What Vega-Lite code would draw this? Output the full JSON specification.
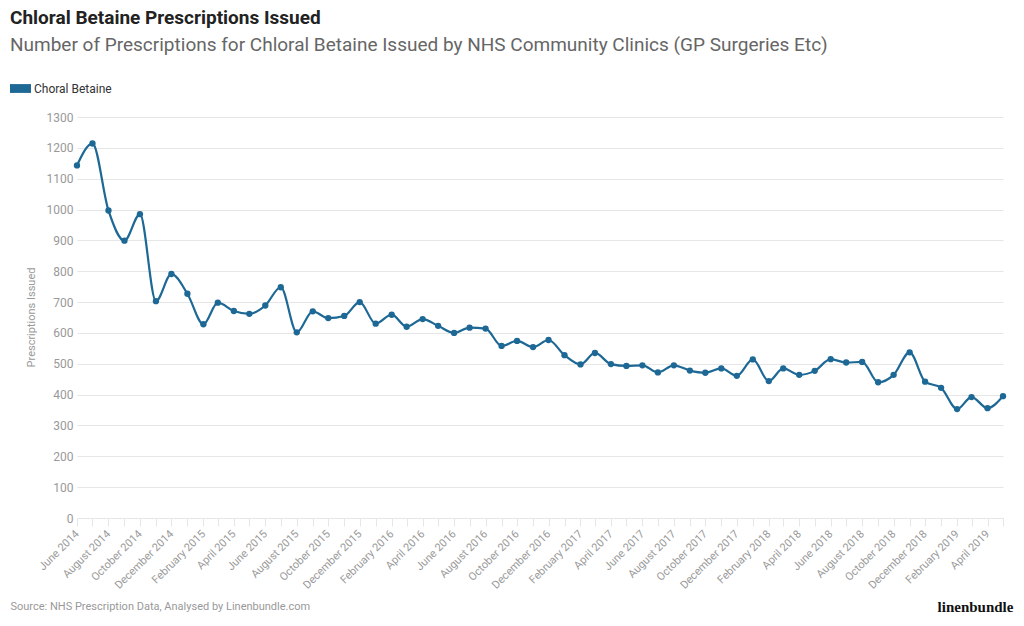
{
  "$schema": "https://vega.github.io/schema/vega-lite/v6.json",
  "width": 926,
  "height": 401,
  "autosize": {"type": "none"},
  "padding": {"left": 77, "top": 117, "right": 21, "bottom": 108},
  "background": "#ffffff",
  "title": {
    "text": "Chloral Betaine Prescriptions Issued",
    "subtitle": "Number of Prescriptions for Chloral Betaine Issued by NHS Community Clinics (GP Surgeries Etc)",
    "anchor": "start",
    "frame": "group",
    "dx": -67,
    "font": "Roboto, sans-serif",
    "fontSize": 19,
    "fontWeight": "bold",
    "color": "#222222",
    "subtitleFont": "Roboto, sans-serif",
    "subtitleFontSize": 19,
    "subtitleColor": "#666666",
    "subtitlePadding": 8,
    "offset": 23
  },
  "config": {
    "view": {"stroke": null},
    "font": "Roboto, sans-serif"
  },
  "data": {
    "values": [
      {"month": "2014-06-01", "prescriptions": 1143, "series": "Choral Betaine"},
      {"month": "2014-07-01", "prescriptions": 1214, "series": "Choral Betaine"},
      {"month": "2014-08-01", "prescriptions": 997, "series": "Choral Betaine"},
      {"month": "2014-09-01", "prescriptions": 899, "series": "Choral Betaine"},
      {"month": "2014-10-01", "prescriptions": 985, "series": "Choral Betaine"},
      {"month": "2014-11-01", "prescriptions": 703, "series": "Choral Betaine"},
      {"month": "2014-12-01", "prescriptions": 791, "series": "Choral Betaine"},
      {"month": "2015-01-01", "prescriptions": 727, "series": "Choral Betaine"},
      {"month": "2015-02-01", "prescriptions": 628, "series": "Choral Betaine"},
      {"month": "2015-03-01", "prescriptions": 698, "series": "Choral Betaine"},
      {"month": "2015-04-01", "prescriptions": 671, "series": "Choral Betaine"},
      {"month": "2015-05-01", "prescriptions": 662, "series": "Choral Betaine"},
      {"month": "2015-06-01", "prescriptions": 689, "series": "Choral Betaine"},
      {"month": "2015-07-01", "prescriptions": 748, "series": "Choral Betaine"},
      {"month": "2015-08-01", "prescriptions": 602, "series": "Choral Betaine"},
      {"month": "2015-09-01", "prescriptions": 670, "series": "Choral Betaine"},
      {"month": "2015-10-01", "prescriptions": 648, "series": "Choral Betaine"},
      {"month": "2015-11-01", "prescriptions": 655, "series": "Choral Betaine"},
      {"month": "2015-12-01", "prescriptions": 700, "series": "Choral Betaine"},
      {"month": "2016-01-01", "prescriptions": 630, "series": "Choral Betaine"},
      {"month": "2016-02-01", "prescriptions": 659, "series": "Choral Betaine"},
      {"month": "2016-03-01", "prescriptions": 620, "series": "Choral Betaine"},
      {"month": "2016-04-01", "prescriptions": 645, "series": "Choral Betaine"},
      {"month": "2016-05-01", "prescriptions": 623, "series": "Choral Betaine"},
      {"month": "2016-06-01", "prescriptions": 600, "series": "Choral Betaine"},
      {"month": "2016-07-01", "prescriptions": 617, "series": "Choral Betaine"},
      {"month": "2016-08-01", "prescriptions": 614, "series": "Choral Betaine"},
      {"month": "2016-09-01", "prescriptions": 558, "series": "Choral Betaine"},
      {"month": "2016-10-01", "prescriptions": 574, "series": "Choral Betaine"},
      {"month": "2016-11-01", "prescriptions": 554, "series": "Choral Betaine"},
      {"month": "2016-12-01", "prescriptions": 577, "series": "Choral Betaine"},
      {"month": "2017-01-01", "prescriptions": 528, "series": "Choral Betaine"},
      {"month": "2017-02-01", "prescriptions": 498, "series": "Choral Betaine"},
      {"month": "2017-03-01", "prescriptions": 535, "series": "Choral Betaine"},
      {"month": "2017-04-01", "prescriptions": 499, "series": "Choral Betaine"},
      {"month": "2017-05-01", "prescriptions": 493, "series": "Choral Betaine"},
      {"month": "2017-06-01", "prescriptions": 495, "series": "Choral Betaine"},
      {"month": "2017-07-01", "prescriptions": 472, "series": "Choral Betaine"},
      {"month": "2017-08-01", "prescriptions": 495, "series": "Choral Betaine"},
      {"month": "2017-09-01", "prescriptions": 478, "series": "Choral Betaine"},
      {"month": "2017-10-01", "prescriptions": 471, "series": "Choral Betaine"},
      {"month": "2017-11-01", "prescriptions": 485, "series": "Choral Betaine"},
      {"month": "2017-12-01", "prescriptions": 461, "series": "Choral Betaine"},
      {"month": "2018-01-01", "prescriptions": 514, "series": "Choral Betaine"},
      {"month": "2018-02-01", "prescriptions": 444, "series": "Choral Betaine"},
      {"month": "2018-03-01", "prescriptions": 485, "series": "Choral Betaine"},
      {"month": "2018-04-01", "prescriptions": 464, "series": "Choral Betaine"},
      {"month": "2018-05-01", "prescriptions": 477, "series": "Choral Betaine"},
      {"month": "2018-06-01", "prescriptions": 515, "series": "Choral Betaine"},
      {"month": "2018-07-01", "prescriptions": 504, "series": "Choral Betaine"},
      {"month": "2018-08-01", "prescriptions": 506, "series": "Choral Betaine"},
      {"month": "2018-09-01", "prescriptions": 440, "series": "Choral Betaine"},
      {"month": "2018-10-01", "prescriptions": 464, "series": "Choral Betaine"},
      {"month": "2018-11-01", "prescriptions": 537, "series": "Choral Betaine"},
      {"month": "2018-12-01", "prescriptions": 442, "series": "Choral Betaine"},
      {"month": "2019-01-01", "prescriptions": 422, "series": "Choral Betaine"},
      {"month": "2019-02-01", "prescriptions": 353, "series": "Choral Betaine"},
      {"month": "2019-03-01", "prescriptions": 392, "series": "Choral Betaine"},
      {"month": "2019-04-01", "prescriptions": 356, "series": "Choral Betaine"},
      {"month": "2019-05-01", "prescriptions": 395, "series": "Choral Betaine"}
    ]
  },
  "layer": [
    {
      "encoding": {
        "x": {
          "field": "month",
          "type": "temporal",
          "scale": {"type": "utc", "nice": false, "padding": 0},
          "axis": {
            "tickCount": {"interval": "month", "step": 1},
            "labelExpr": "(utcmonth(datum.value) % 2 == 1) ? utcFormat(datum.value, '%B %Y') : ''",
            "labelAngle": -45,
            "labelAlign": "right",
            "labelBaseline": "middle",
            "labelPadding": 6,
            "labelOverlap": false,
            "labelFlush": false,
            "labelBound": false,
            "labelFontSize": 11,
            "labelColor": "#999999",
            "grid": false,
            "domainColor": "#e6e6e6",
            "domainWidth": 1,
            "tickColor": "#e6e6e6",
            "tickSize": 8,
            "title": "Source: NHS Prescription Data, Analysed by Linenbundle.com",
            "titleFontSize": 11,
            "titleFontWeight": "normal",
            "titleColor": "#999999",
            "titleAlign": "left",
            "titleBaseline": "middle",
            "titleX": -67,
            "titleY": 88
          }
        },
        "y": {
          "field": "prescriptions",
          "type": "quantitative",
          "scale": {"domain": [0, 1300], "nice": false},
          "axis": {
            "orient": "left",
            "values": [0, 100, 200, 300, 400, 500, 600, 700, 800, 900, 1000, 1100, 1200, 1300],
            "format": "d",
            "grid": true,
            "gridColor": "#e6e6e6",
            "domain": false,
            "ticks": false,
            "labelPadding": 4,
            "labelFontSize": 12,
            "labelColor": "#999999",
            "title": "Prescriptions Issued",
            "titleFontSize": 11,
            "titleFontWeight": "normal",
            "titleColor": "#999999",
            "titleAngle": -90,
            "titleAlign": "center",
            "titleBaseline": "middle",
            "titleX": -46,
            "titleY": 200
          }
        }
      },
      "layer": [
        {
          "mark": {"type": "line", "interpolate": "monotone", "color": "#1d6895", "strokeWidth": 2.2}
        },
        {
          "mark": {"type": "point", "filled": true, "opacity": 1, "size": 40},
          "encoding": {
            "color": {
              "field": "series",
              "type": "nominal",
              "scale": {"range": ["#1d6895"]},
              "legend": {
                "title": null,
                "orient": "none",
                "legendX": -67,
                "legendY": -39,
                "symbolType": "M-1,-0.42H1V0.42H-1Z",
                "symbolSize": 441,
                "symbolOpacity": 1,
                "symbolStrokeWidth": 0,
                "labelFontSize": 12,
                "labelColor": "#333333",
                "labelOffset": 3
              }
            }
          }
        }
      ]
    },
    {
      "mark": {"type": "rule", "opacity": 0},
      "encoding": {
        "y": {
          "datum": 0,
          "type": "quantitative",
          "axis": {
            "orient": "right",
            "labels": false,
            "ticks": false,
            "domain": false,
            "grid": false,
            "title": "linenbundle",
            "titleFont": "Liberation Serif, DejaVu Serif, serif",
            "titleFontSize": 15,
            "titleFontWeight": "bold",
            "titleColor": "#111111",
            "titleAngle": 0,
            "titleAlign": "center",
            "titleBaseline": "middle",
            "titleX": -28,
            "titleY": 489
          }
        }
      }
    }
  ],
  "resolve": {"axis": {"y": "independent"}}
}
